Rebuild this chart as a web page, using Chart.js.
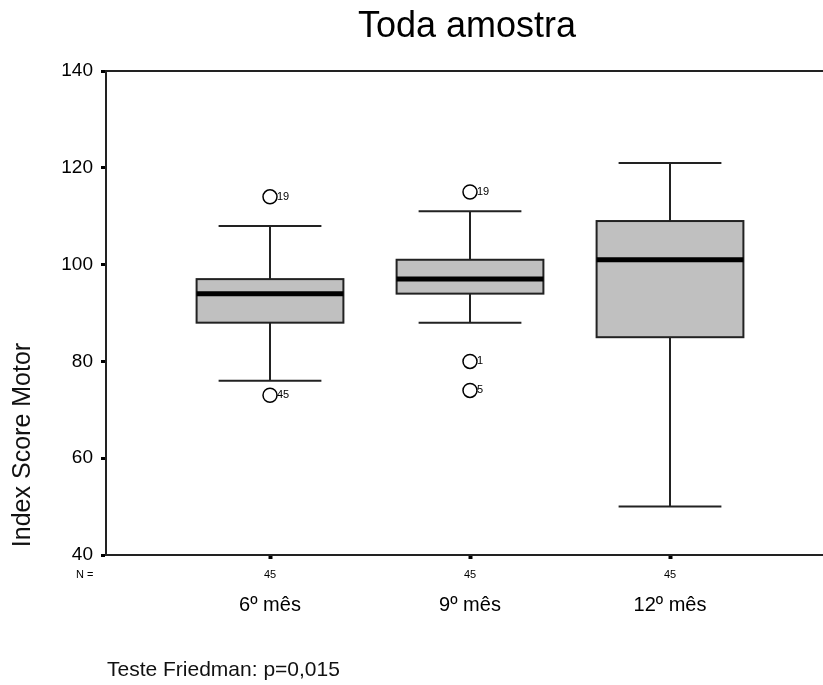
<!DOCTYPE html>
<html>
<head>
<meta charset="utf-8">
<script src="https://cdn.jsdelivr.net/npm/chart.js@4"></script>
<style>
  html, body { margin: 0; padding: 0; background: #fff; }
  canvas { display: block; }
</style>
</head>
<body>
<canvas id="c" width="823" height="685"></canvas>
<script>
// ---- data ----
const categories = ['6º mês', '9º mês', '12º mês'];
const nValues = [45, 45, 45];
const whiskerLow = [76, 88, 50];
const q1 = [88, 94, 85];
const median = [94, 97, 101];
const q3 = [97, 101, 109];
const whiskerHigh = [108, 111, 121];
// outliers: category index, value, case label
const outlierCat = [0, 0, 1, 1, 1];
const outlierVal = [114, 73, 115, 80, 74];
const outlierLabel = ['19', '45', '19', '1', '5'];
const yTicks = [40, 60, 80, 100, 120, 140];
const chartTitle = 'Toda amostra';
const yTitle = 'Index Score Motor';
const footNote = 'Teste Friedman: p=0,015';

const FONT = '"Liberation Sans", Arial, sans-serif';
const BOX_HALF = 0.367;
const CAP_HALF = 0.257;

const boxPlugin = {
  id: 'boxes',
  afterDatasetsDraw(chart) {
    const ctx = chart.ctx;
    const xs = chart.scales.x, ys = chart.scales.y;
    const ca = chart.chartArea;
    ctx.save();
    categories.forEach((c, i) => {
      const xc = xs.getPixelForValue(i + 1);
      const xl = xs.getPixelForValue(i + 1 - BOX_HALF);
      const xr = xs.getPixelForValue(i + 1 + BOX_HALF);
      const cl = xs.getPixelForValue(i + 1 - CAP_HALF);
      const cr = xs.getPixelForValue(i + 1 + CAP_HALF);
      const yLo = ys.getPixelForValue(whiskerLow[i]);
      const yQ1 = ys.getPixelForValue(q1[i]);
      const yMed = ys.getPixelForValue(median[i]);
      const yQ3 = ys.getPixelForValue(q3[i]);
      const yHi = ys.getPixelForValue(whiskerHigh[i]);
      ctx.strokeStyle = '#222';
      ctx.lineWidth = 2;
      // whiskers
      ctx.beginPath();
      ctx.moveTo(xc, yHi); ctx.lineTo(xc, yQ3);
      ctx.moveTo(xc, yQ1); ctx.lineTo(xc, yLo);
      ctx.moveTo(cl, yHi); ctx.lineTo(cr, yHi);
      ctx.moveTo(cl, yLo); ctx.lineTo(cr, yLo);
      ctx.stroke();
      // box
      ctx.fillStyle = '#c0c0c0';
      ctx.fillRect(xl, yQ3, xr - xl, yQ1 - yQ3);
      ctx.strokeRect(xl, yQ3, xr - xl, yQ1 - yQ3);
      // median
      ctx.strokeStyle = '#000';
      ctx.lineWidth = 5;
      ctx.beginPath();
      ctx.moveTo(xl, yMed); ctx.lineTo(xr, yMed);
      ctx.stroke();
      // N labels
      ctx.fillStyle = '#000';
      ctx.font = '11px ' + FONT;
      ctx.textAlign = 'center';
      ctx.textBaseline = 'middle';
      ctx.fillText(String(nValues[i]), xc, ca.bottom + 20);
    });
    // outlier labels
    const meta = chart.getDatasetMeta(0);
    ctx.font = '11px ' + FONT;
    ctx.textAlign = 'left';
    ctx.textBaseline = 'middle';
    ctx.fillStyle = '#000';
    meta.data.forEach((pt, k) => {
      ctx.fillText(outlierLabel[k], pt.x + 7, pt.y);
    });
    // N =
    ctx.fillText('N =', 76, ca.bottom + 20);
    // top frame line
    ctx.strokeStyle = '#222';
    ctx.lineWidth = 2;
    ctx.beginPath();
    ctx.moveTo(ca.left, ca.top); ctx.lineTo(ca.right, ca.top);
    ctx.stroke();
    // title
    ctx.font = '36px ' + FONT;
    ctx.textAlign = 'center';
    ctx.textBaseline = 'alphabetic';
    ctx.fillText(chartTitle, 467, 37);
    // y title
    ctx.save();
    ctx.translate(30, 445);
    ctx.rotate(-Math.PI / 2);
    ctx.font = '25px ' + FONT;
    ctx.textAlign = 'center';
    ctx.textBaseline = 'alphabetic';
    ctx.fillStyle = '#111';
    ctx.fillText(yTitle, 0, 0);
    ctx.restore();
    // footnote
    ctx.font = '21px ' + FONT;
    ctx.textAlign = 'left';
    ctx.textBaseline = 'alphabetic';
    ctx.fillStyle = '#111';
    ctx.fillText(footNote, 107, 676);
    ctx.restore();
  }
};

new Chart(document.getElementById('c'), {
  type: 'scatter',
  data: {
    datasets: [{
      data: outlierVal.map((v, k) => ({ x: outlierCat[k] + 1, y: v })),
      pointRadius: 7,
      pointHoverRadius: 7,
      pointBackgroundColor: '#fff',
      pointBorderColor: '#000',
      pointBorderWidth: 1.5
    }]
  },
  options: {
    responsive: false,
    animation: false,
    events: [],
    layout: { autoPadding: false, padding: { top: 71, right: 0, bottom: 0, left: 0 } },
    plugins: { legend: { display: false }, tooltip: { enabled: false }, title: { display: false } },
    scales: {
      x: {
        type: 'linear',
        min: 0.18,
        max: 3.765,
        afterFit(s) { s.height = 130; },
        afterBuildTicks(s) { s.ticks = categories.map((c, i) => ({ value: i + 1 })); },
        ticks: {
          autoSkip: false,
          maxRotation: 0,
          padding: 34,
          color: '#000',
          font: { family: FONT, size: 20 },
          callback(v) { return categories[v - 1]; }
        },
        grid: { display: true, drawOnChartArea: false, drawTicks: true, tickLength: 4, tickWidth: 4, color: '#000' },
        border: { display: true, color: '#222', width: 2 }
      },
      y: {
        min: 40,
        max: 140,
        afterFit(s) { s.width = 106; },
        afterBuildTicks(s) { s.ticks = yTicks.map(v => ({ value: v })); },
        ticks: {
          padding: 8,
          color: '#000',
          font: { family: FONT, size: 19 }
        },
        grid: { display: true, drawOnChartArea: false, drawTicks: true, tickLength: 5, tickWidth: 3, color: '#000' },
        border: { display: true, color: '#222', width: 2 }
      }
    }
  },
  plugins: [boxPlugin]
});
</script>
</body>
</html>
